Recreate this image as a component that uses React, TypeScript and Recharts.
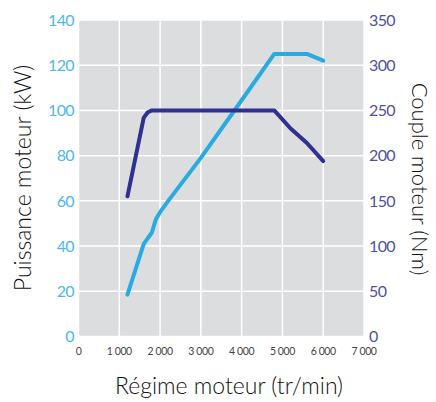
import React from 'react';
import { LineChart, Line, XAxis, YAxis, CartesianGrid, Label } from 'recharts';

const powerRpm = [1200, 1600, 1800, 1900, 2000, 2200, 3000, 4000, 4800, 5600, 6000];
const powerKw = [18.5, 41, 46, 52, 55, 60, 79, 104.5, 125, 125, 122];
const torqueRpm = [1200, 1600, 1700, 1800, 4800, 5200, 5600, 6000];
const torqueNm = [155, 242, 248, 250, 250, 230, 214, 194];
const rpmTicks = [0, 1000, 2000, 3000, 4000, 5000, 6000, 7000];
const powerTicks = [0, 20, 40, 60, 80, 100, 120, 140];
const torqueTicks = [0, 50, 100, 150, 200, 250, 300, 350];

const xTitle = 'Régime moteur (tr/min)';
const leftTitle = 'Puissance moteur (kW)';
const rightTitle = 'Couple moteur (Nm)';

const powerData = powerRpm.map((rpm, i) => ({ rpm, power: powerKw[i] }));
const torqueData = torqueRpm.map((rpm, i) => ({ rpm, torque: torqueNm[i] }));

const FONT = 'Lato, "Open Sans", sans-serif';
const LIGHT = '#29abe2';
const DARK = '#2e3192';

const fmtRpm = (v: number) => (v >= 1000 ? `${Math.floor(v / 1000)}\u00A0${String(v % 1000).padStart(3, '0')}` : String(v));

export default function App() {
  return (
    <div style={{ position: 'absolute', left: 0, top: 0, width: 436, height: 402, background: '#fff' }}>
      <LineChart width={436} height={402} margin={{ top: 20, right: 0, bottom: 0, left: 0 }}>
        <CartesianGrid yAxisId="left" fill="#dcdddf" stroke="#ffffff" strokeWidth={1.5} />
        <XAxis
          type="number"
          dataKey="rpm"
          domain={[0, 7000]}
          ticks={rpmTicks}
          tickFormatter={fmtRpm}
          axisLine={false}
          tickLine={false}
          tickSize={0}
          tickMargin={11}
          height={65.5}
          interval={0}
          tick={{ fill: '#444', fontSize: 10.5, fontFamily: FONT, letterSpacing: -0.4 }}
        >
          <Label
            content={() => (
              <text x={229} y={394} textAnchor="middle" fontSize={23} fontWeight={300} fontFamily={FONT} fill="#111">
                {xTitle}
              </text>
            )}
          />
        </XAxis>
        <YAxis
          yAxisId="left"
          orientation="left"
          domain={[0, 140]}
          ticks={powerTicks}
          width={78.5}
          axisLine={false}
          tickLine={false}
          tickSize={0}
          tickMargin={4.5}
          interval={0}
          tick={{ fill: '#4db8e8', fontSize: 16, fontFamily: FONT, letterSpacing: -0.6 }}
        >
          <Label
            content={() => (
              <text
                x={0}
                y={0}
                transform="translate(31,178) rotate(-90)"
                textAnchor="middle"
                fontSize={23}
                fontWeight={300}
                fontFamily={FONT}
                fill="#111"
              >
                {leftTitle}
              </text>
            )}
          />
        </YAxis>
        <YAxis
          yAxisId="right"
          orientation="right"
          domain={[0, 350]}
          ticks={torqueTicks}
          width={72}
          axisLine={false}
          tickLine={false}
          tickSize={0}
          tickMargin={5}
          interval={0}
          tick={{ fill: '#4f52a3', fontSize: 16, fontFamily: FONT, letterSpacing: -0.6 }}
        >
          <Label
            content={() => (
              <text
                x={0}
                y={0}
                transform="translate(412,179) rotate(90)"
                textAnchor="middle"
                fontSize={22}
                fontWeight={300}
                fontFamily={FONT}
                fill="#111"
              >
                {rightTitle}
              </text>
            )}
          />
        </YAxis>
        <Line
          yAxisId="left"
          data={powerData}
          dataKey="power"
          type="linear"
          stroke={LIGHT}
          strokeWidth={4}
          strokeLinecap="round"
          strokeLinejoin="round"
          dot={false}
          activeDot={false}
          isAnimationActive={false}
        />
        <Line
          yAxisId="right"
          data={torqueData}
          dataKey="torque"
          type="linear"
          stroke={DARK}
          strokeWidth={4}
          strokeLinecap="round"
          strokeLinejoin="round"
          dot={false}
          activeDot={false}
          isAnimationActive={false}
        />
      </LineChart>
    </div>
  );
}
